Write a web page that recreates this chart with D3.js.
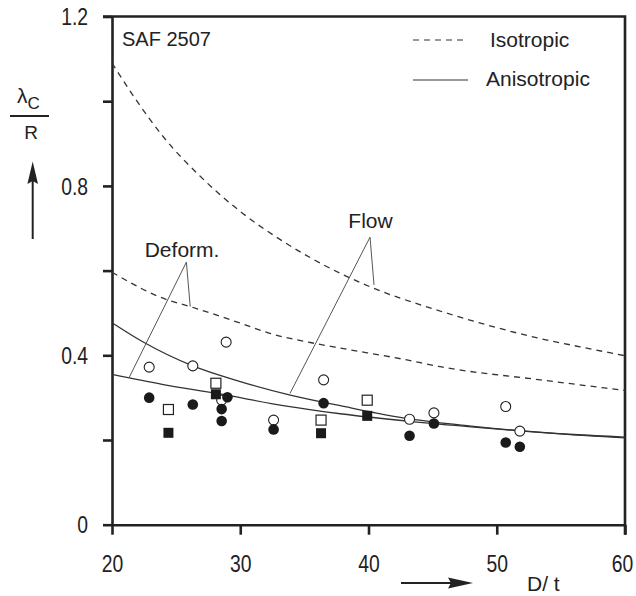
<!DOCTYPE html>
<html>
<head>
<meta charset="utf-8">
<script src="https://cdn.jsdelivr.net/npm/d3@7"></script>
<style>
  body { margin: 0; background: #fff; }
</style>
</head>
<body>
<div id="chart"></div>
<script>
// axis ticks
var xTicks = [20, 30, 40, 50, 60];
var yTicks = [0, 0.2, 0.4, 0.6, 0.8, 1.0, 1.2];
var yTickLabels = [0, 0.4, 0.8, 1.2];

// theory curves, [D/t, lambda_c/R]
var isoFlow = [[20, 1.09], [21.7, 1.011], [24, 0.916], [26.9, 0.822], [30.2, 0.735], [33.6, 0.664],
  [37.3, 0.601], [40.1, 0.562], [45, 0.51], [49.2, 0.472], [52.9, 0.443], [56.5, 0.42], [60, 0.399]];
var isoDeform = [[20, 0.596], [24.3, 0.531], [26.1, 0.515], [30, 0.476], [32.3, 0.452], [36, 0.427],
  [37.8, 0.417], [43, 0.389], [45.6, 0.373], [53.4, 0.342], [60, 0.317]];
var anisoFlow = [[20, 0.477], [22.4, 0.432], [26.3, 0.375], [30, 0.338], [33.9, 0.306], [37.8, 0.281],
  [43.2, 0.25], [48, 0.233], [51.8, 0.222], [56, 0.213], [60, 0.207]];
var anisoDeform = [[20, 0.355], [24, 0.331], [28.2, 0.31], [33.6, 0.28], [37.8, 0.262], [43.2, 0.244],
  [48, 0.231], [52, 0.221], [56, 0.212], [60, 0.205]];

// test results
var openCircles = [[22.9, 0.372], [26.3, 0.375], [28.9, 0.431], [28.55, 0.294], [32.6, 0.247],
  [36.5, 0.342], [43.2, 0.249], [45.1, 0.264], [50.7, 0.279], [51.8, 0.221]];
var filledCircles = [[22.9, 0.30], [26.3, 0.284], [29.0, 0.301], [28.55, 0.273], [28.55, 0.245],
  [32.6, 0.225], [36.5, 0.287], [43.2, 0.21], [45.1, 0.239], [50.7, 0.194], [51.8, 0.184]];
var openSquares = [[24.4, 0.272], [28.1, 0.334], [36.3, 0.247], [39.9, 0.294]];
var filledSquares = [[24.4, 0.217], [28.1, 0.308], [36.3, 0.216], [39.9, 0.257]];

// leader lines for the labels: [apex, end1, end2]
var deformLeader = [[25.8, 0.62], [21.33, 0.347], [26.1, 0.515]];
var flowLeader = [[40.12, 0.679], [33.88, 0.31], [40.43, 0.566]];

function renderChart() {
  var attrs = {
    svgWidth: 636,
    svgHeight: 596,
    marginTop: 16.5,
    marginBottom: 71.3,
    marginLeft: 112,
    marginRight: 11,
    textFill: '#222',
    font: '"Liberation Sans", Arial, Helvetica, sans-serif'
  };

  var calc = {};
  calc.width = attrs.svgWidth - attrs.marginLeft - attrs.marginRight;
  calc.height = attrs.svgHeight - attrs.marginTop - attrs.marginBottom;

  var svg = d3.select('#chart').append('svg')
    .attr('width', attrs.svgWidth)
    .attr('height', attrs.svgHeight)
    .attr('font-family', attrs.font)
    .style('display', 'block');

  var chart = svg.append('g')
    .attr('transform', 'translate(' + attrs.marginLeft + ',' + attrs.marginTop + ')');

  var x = d3.scaleLinear().domain([20, 60]).range([0, calc.width]);
  var y = d3.scaleLinear().domain([0, 1.2]).range([calc.height, 0]);

  // axes
  var xAxis = chart.append('g')
    .attr('transform', 'translate(0,' + calc.height + ')')
    .call(d3.axisBottom(x).tickValues(xTicks).tickSize(10).tickPadding(21).tickSizeOuter(0));
  var yAxis = chart.append('g')
    .call(d3.axisLeft(y).tickValues(yTicks).tickSize(9).tickPadding(15).tickSizeOuter(0)
      .tickFormat(function (d) { return yTickLabels.indexOf(d) >= 0 ? d3.format('')(d) : ''; }));

  [xAxis, yAxis].forEach(function (ax) {
    ax.select('.domain').attr('stroke', '#222').attr('stroke-width', 2.6);
    ax.selectAll('.tick line').attr('stroke', '#222').attr('stroke-width', 2.6);
    ax.selectAll('.tick text')
      .attr('fill', attrs.textFill)
      .attr('font-size', 23)
      .attr('font-family', attrs.font)
      .each(function () {
        // the figure's digits are a narrower face; squeeze them a bit
        var w = this.getComputedTextLength();
        if (w > 0) {
          d3.select(this).attr('textLength', w * 0.84).attr('lengthAdjust', 'spacingAndGlyphs');
        }
      });
  });
  yAxis.selectAll('.tick text').attr('dy', '0.36em');
  // last x label sits right at the page edge
  xAxis.selectAll('.tick text').filter(function (d) { return d === 60; }).attr('dx', -3);

  // top and right frame
  chart.append('path')
    .attr('d', 'M' + (-9) + ',0H' + calc.width + 'V' + (calc.height + 10))
    .attr('fill', 'none')
    .attr('stroke', '#222')
    .attr('stroke-width', 2.6);

  var line = d3.line()
    .x(function (d) { return x(d[0]); })
    .y(function (d) { return y(d[1]); })
    .curve(d3.curveMonotoneX);

  // theory curves
  [isoFlow, isoDeform].forEach(function (c) {
    chart.append('path').attr('d', line(c))
      .attr('fill', 'none').attr('stroke', '#333').attr('stroke-width', 1.3)
      .attr('stroke-dasharray', '6,5');
  });
  [anisoFlow, anisoDeform].forEach(function (c) {
    chart.append('path').attr('d', line(c))
      .attr('fill', 'none').attr('stroke', '#333').attr('stroke-width', 1.3);
  });

  // leader lines
  [deformLeader, flowLeader].forEach(function (l) {
    chart.append('path')
      .attr('d', 'M' + x(l[1][0]) + ',' + y(l[1][1]) + 'L' + x(l[0][0]) + ',' + y(l[0][1]) +
        'L' + x(l[2][0]) + ',' + y(l[2][1]))
      .attr('fill', 'none').attr('stroke', '#555').attr('stroke-width', 1);
  });

  chart.append('text')
    .attr('x', x(22.55)).attr('y', y(0.633))
    .attr('font-size', 21).attr('fill', attrs.textFill)
    .text('Deform.');
  chart.append('text')
    .attr('x', x(38.43)).attr('y', y(0.70))
    .attr('font-size', 21).attr('fill', attrs.textFill)
    .text('Flow');

  // markers
  var r = 5;
  var s = 10;
  chart.append('g').selectAll('rect').data(openSquares).enter().append('rect')
    .attr('x', function (d) { return x(d[0]) - s / 2; })
    .attr('y', function (d) { return y(d[1]) - s / 2; })
    .attr('width', s).attr('height', s)
    .attr('fill', '#fff').attr('stroke', '#222').attr('stroke-width', 1.2);
  chart.append('g').selectAll('circle').data(openCircles).enter().append('circle')
    .attr('cx', function (d) { return x(d[0]); })
    .attr('cy', function (d) { return y(d[1]); })
    .attr('r', r)
    .attr('fill', '#fff').attr('stroke', '#222').attr('stroke-width', 1.1);
  chart.append('g').selectAll('rect').data(filledSquares).enter().append('rect')
    .attr('x', function (d) { return x(d[0]) - s / 2; })
    .attr('y', function (d) { return y(d[1]) - s / 2; })
    .attr('width', s).attr('height', s)
    .attr('fill', '#1a1a1a');
  chart.append('g').selectAll('circle').data(filledCircles).enter().append('circle')
    .attr('cx', function (d) { return x(d[0]); })
    .attr('cy', function (d) { return y(d[1]); })
    .attr('r', r + 0.3)
    .attr('fill', '#1a1a1a');

  // title in plot
  chart.append('text')
    .attr('x', 10).attr('y', 29)
    .attr('font-size', 20).attr('fill', attrs.textFill)
    .text('SAF 2507');

  // legend
  var legend = chart.append('g').attr('transform', 'translate(' + (413 - attrs.marginLeft) + ',' + (40 - attrs.marginTop) + ')');
  legend.append('line').attr('x1', 0).attr('x2', 55).attr('y1', 0).attr('y2', 0)
    .attr('stroke', '#333').attr('stroke-width', 1.2).attr('stroke-dasharray', '6,5');
  legend.append('text').attr('x', 77).attr('y', 7)
    .attr('font-size', 21).attr('fill', attrs.textFill).text('Isotropic');
  legend.append('line').attr('x1', 0).attr('x2', 55).attr('y1', 40).attr('y2', 40)
    .attr('stroke', '#333').attr('stroke-width', 1.2);
  legend.append('text').attr('x', 73).attr('y', 46)
    .attr('font-size', 21).attr('fill', attrs.textFill).text('Anisotropic');

  // y label: lambda_c / R with arrow
  var yl = svg.append('g').attr('fill', attrs.textFill);
  var lam = yl.append('text').attr('x', 17).attr('y', 103).attr('font-size', 21);
  lam.append('tspan').text('λ');
  lam.append('tspan').attr('font-size', 17).attr('dy', 6).text('C');
  yl.append('line').attr('x1', 10).attr('x2', 49).attr('y1', 116).attr('y2', 116)
    .attr('stroke', '#222').attr('stroke-width', 2);
  yl.append('text').attr('x', 31).attr('y', 139).attr('font-size', 19)
    .attr('text-anchor', 'middle').text('R');
  yl.append('line').attr('x1', 32.7).attr('x2', 32.7).attr('y1', 239).attr('y2', 178)
    .attr('stroke', '#222').attr('stroke-width', 2);
  yl.append('path').attr('d', 'M32.7,161.5L38,184L32.7,181L27.4,184Z').attr('fill', '#222');

  // x label: arrow and D/ t
  var xl = svg.append('g').attr('fill', attrs.textFill);
  xl.append('line').attr('x1', 401).attr('x2', 455).attr('y1', 583).attr('y2', 583)
    .attr('stroke', '#222').attr('stroke-width', 2);
  xl.append('path').attr('d', 'M473,583L448,577.5L451,583L448,588.5Z').attr('fill', '#222');
  xl.append('text').attr('x', 527).attr('y', 591).attr('font-size', 21).text('D/ t');
}

renderChart();
</script>
</body>
</html>
